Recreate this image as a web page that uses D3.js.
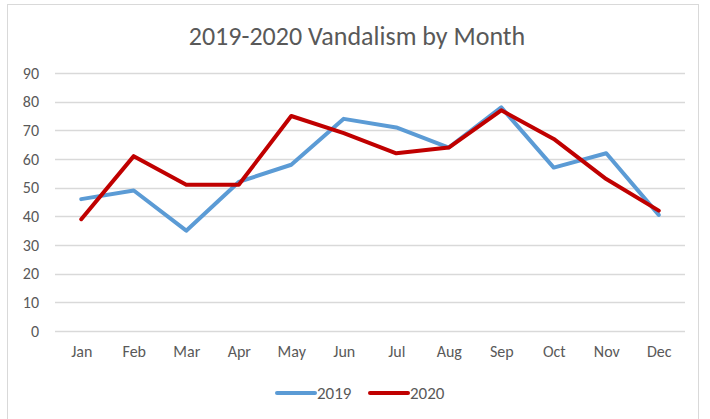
<!DOCTYPE html>
<html>
<head>
<meta charset="utf-8">
<script src="https://cdn.jsdelivr.net/npm/d3@7"></script>
<style>
  body { margin: 0; background: #fff; }
  text { font-family: Carlito, Lato, "Liberation Sans", sans-serif; fill: #595959; }
</style>
</head>
<body>
<div id="wrapper"></div>
<script>
const months = ["Jan", "Feb", "Mar", "Apr", "May", "Jun", "Jul", "Aug", "Sep", "Oct", "Nov", "Dec"]
const values2019 = [46, 49, 35, 52, 58, 74, 71, 64, 78, 57, 62, 40.5]
const values2020 = [39, 61, 51, 51, 75, 69, 62, 64, 77, 67, 53, 42]
const yTicks = [0, 10, 20, 30, 40, 50, 60, 70, 80, 90]
const seriesNames = ["2019", "2020"]
const seriesColors = ["#5B9BD5", "#C00000"]

function drawChart() {
  const series = [values2019, values2020]

  let dimensions = {
    width: 710,
    height: 419,
    margin: { top: 73, right: 25, bottom: 88, left: 55 },
  }
  dimensions.boundedWidth = dimensions.width - dimensions.margin.left - dimensions.margin.right
  dimensions.boundedHeight = dimensions.height - dimensions.margin.top - dimensions.margin.bottom

  const wrapper = d3.select("#wrapper")
    .append("svg")
    .attr("width", dimensions.width)
    .attr("height", dimensions.height)

  // outer chart frame
  wrapper.append("rect")
    .attr("x", 7.5)
    .attr("y", 4.5)
    .attr("width", 691)
    .attr("height", 430)
    .attr("fill", "#fff")
    .attr("stroke", "#d9d9d9")

  wrapper.append("text")
    .attr("x", 357)
    .attr("y", 45)
    .attr("text-anchor", "middle")
    .style("font-size", "26px")
    .text("2019-2020 Vandalism by Month")

  const bounds = wrapper.append("g")
    .attr("transform", `translate(${dimensions.margin.left},${dimensions.margin.top})`)

  const yScale = d3.scaleLinear()
    .domain([0, 90])
    .range([dimensions.boundedHeight, 0])

  const xScale = d3.scalePoint()
    .domain(months)
    .range([0, dimensions.boundedWidth])
    .padding(0.5)

  // gridlines
  bounds.append("g")
    .selectAll("line")
    .data(yTicks)
    .join("line")
    .attr("x1", 0)
    .attr("x2", dimensions.boundedWidth)
    .attr("y1", d => Math.round(yScale(d)) + 0.5)
    .attr("y2", d => Math.round(yScale(d)) + 0.5)
    .attr("stroke", "#d9d9d9")
    .attr("stroke-width", 1.3)

  const yAxisGenerator = d3.axisLeft(yScale)
    .tickValues(yTicks)
    .tickSize(0)
    .tickPadding(16)

  const yAxis = bounds.append("g").call(yAxisGenerator)
  yAxis.select(".domain").remove()
  yAxis.selectAll("text").style("font-size", "16px").attr("fill", "#595959")

  const xAxisGenerator = d3.axisBottom(xScale)
    .tickSize(0)
    .tickPadding(15)

  const xAxis = bounds.append("g")
    .attr("transform", `translate(0,${dimensions.boundedHeight})`)
    .call(xAxisGenerator)
  xAxis.select(".domain").remove()
  xAxis.selectAll("text").style("font-size", "16px").attr("fill", "#595959")

  const lineGenerator = d3.line()
    .x((d, i) => xScale(months[i]))
    .y(d => yScale(d))

  bounds.append("g")
    .selectAll("path")
    .data(series)
    .join("path")
    .attr("d", d => lineGenerator(d))
    .attr("fill", "none")
    .attr("stroke", (d, i) => seriesColors[i])
    .attr("stroke-width", 4)
    .attr("stroke-linejoin", "round")
    .attr("stroke-linecap", "round")

  // legend
  const legend = wrapper.append("g")
    .attr("transform", "translate(277,393)")

  const items = legend.selectAll("g")
    .data(seriesNames)
    .join("g")
    .attr("transform", (d, i) => `translate(${i * 93},0)`)

  items.append("line")
    .attr("x1", 0)
    .attr("x2", 38)
    .attr("stroke", (d, i) => seriesColors[i])
    .attr("stroke-width", 4)
    .attr("stroke-linecap", "round")

  items.append("text")
    .attr("x", 40)
    .attr("y", 6)
    .style("font-size", "17px")
    .text(d => d)
}

drawChart()
</script>
</body>
</html>
